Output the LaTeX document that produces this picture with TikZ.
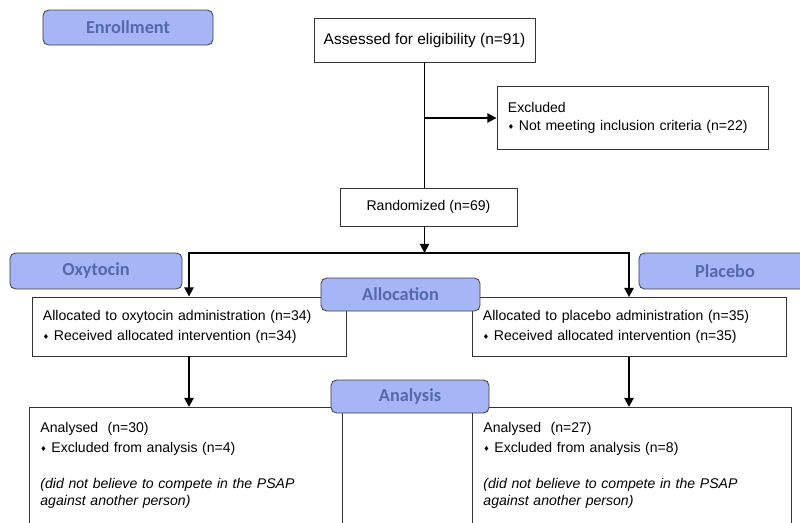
\documentclass[tikz,border=0pt]{standalone}
\usepackage{fontspec}
\setmainfont{Liberation Sans}
\newfontfamily\labelfont{Carlito}
\newfontfamily\symfont{DejaVu Sans}
\usetikzlibrary{arrows.meta}
\definecolor{tagfill}{RGB}{166,181,246}
\definecolor{tagtext}{RGB}{84,104,172}
\newcommand{\dmd}{\raisebox{0.6pt}{\symfont\fontsize{5}{5}\selectfont ♦}}

\begin{document}
\begin{tikzpicture}[x=0.025cm, y=-0.025cm,
  box/.style={draw=black!80, line width=0.6pt, fill=white, inner sep=0pt, font=\fontsize{10}{14.2}\selectfont},
  tag/.style={draw=black!75, line width=0.6pt, rounded corners=4pt, fill=tagfill, text=tagtext, font=\labelfont\bfseries\fontsize{13}{15}\selectfont},
  line/.style={line width=1.4pt},
  arrow/.style={line width=1.4pt, -{Triangle[length=6.5pt,width=6.5pt]}}]
\useasboundingbox (0,0) rectangle (800,522);
\clip (0,0) rectangle (800,522);

% Enrollment
\node (assess) [box, minimum width=5.525cm, minimum height=1.1cm, font=\fontsize{11}{13}\selectfont] at (424.5,40) {Assessed for eligibility (n=91)};
\node (excl) [box, text width=6.225cm, inner xsep=0.275cm, minimum height=1.575cm, align=left, font=\fontsize{10}{12.8}\selectfont] at (632.5,118) {Excluded\\\dmd~Not meeting inclusion criteria (n=22)};
\node (rand) [box, minimum width=4.425cm, minimum height=0.95cm] at (428.5,207) {Randomized (n=69)};
\coordinate (split) at (424.5,253);

% Allocation
\node (lalloc) [box, text width=7.3cm, inner xsep=0.275cm, minimum height=1.475cm, align=left] at (189,326.5) {Allocated to oxytocin administration (n=34)\\\dmd~Received allocated intervention (n=34)};
\node (ralloc) [box, text width=7.3cm, inner xsep=0.275cm, minimum height=1.475cm, align=left] at (629,327) {Allocated to placebo administration (n=35)\\\dmd~Received allocated intervention (n=35)};

% Analysis
\node (lana) [box, anchor=north west, text width=7.275cm, inner xsep=0.275cm, inner ysep=0.38cm] at (29,407) {\parbox[t][4cm][t]{\linewidth}{\raggedright
  Analysed~ (n=30)\\
  \dmd~Excluded from analysis (n=4)\\[11.4pt]
  \textit{(did not believe to compete in the PSAP}\\[-2.2pt]
  \textit{against another person)}}};
\node (rana) [box, anchor=north west, text width=7.425cm, inner xsep=0.275cm, inner ysep=0.38cm] at (472,407) {\parbox[t][4cm][t]{\linewidth}{\raggedright
  Analysed~ (n=27)\\
  \dmd~Excluded from analysis (n=8)\\[11.4pt]
  \textit{(did not believe to compete in the PSAP}\\[-2.2pt]
  \textit{against another person)}}};

% connectors
\draw[line] (assess.south) -- (assess.south |- rand.north);
\draw[arrow] (assess.south |- excl.west) -- (excl.west);
\draw[arrow] (assess.south |- rand.south) -- (split);
\draw[arrow] (split) -| (lalloc.north);
\draw[arrow] (split) -| (ralloc.north);
\draw[arrow] (lalloc.south) -- (lalloc.south |- lana.north);
\draw[arrow] (ralloc.south) -- (ralloc.south |- rana.north);

% stage tags
\node (enrol) [tag, minimum width=4.25cm, minimum height=0.875cm] at (128,27.5) {Enrollment};
\node (oxy) [tag, minimum width=4.3cm, minimum height=0.9cm] at (96,271) {Oxytocin};
\node (plac) [tag, minimum width=4.3cm, minimum height=0.9cm] at (725,271) {Placebo};
\node (alloc) [tag, minimum width=3.975cm, minimum height=0.825cm] at (400.5,294.5) {Allocation};
\node (anal) [tag, minimum width=3.95cm, minimum height=0.825cm] at (410,396.5) {Analysis};
\end{tikzpicture}
\end{document}
